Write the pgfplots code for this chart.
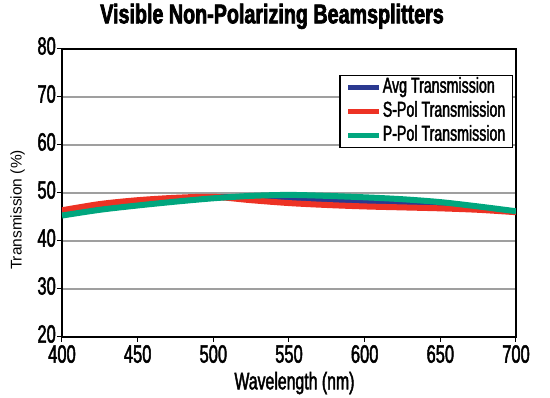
\documentclass[border=0pt]{standalone}
\usepackage{fontspec}
\setmainfont{Liberation Sans}
\newfontfamily\condf{Liberation Sans}[FakeStretch=0.66, FakeBold=1.8]
\newfontfamily\titlef{Liberation Sans Bold}[FakeStretch=0.73, FakeBold=2.5]
\usepackage{pgfplots}
\pgfplotsset{compat=1.18}
\definecolor{avgc}{RGB}{43,57,144}
\definecolor{sc}{RGB}{237,50,36}
\definecolor{pc}{RGB}{0,166,126}
\begin{document}
\begin{tikzpicture}
\useasboundingbox (-62pt,-61pt) rectangle (488pt,337pt);
\begin{axis}[
  at={(0pt,0pt)}, anchor=south west,
  scale only axis, width=454pt, height=288pt,
  xmin=400, xmax=700, ymin=20, ymax=80,
  xtick={400,450,...,700}, ytick={20,30,...,80},
  ymajorgrids, grid style={gray!75, line width=2.2pt},
  axis line style={line width=1.8pt},
  tick style={black, line width=1pt},
  major tick length=5pt,
  tick align=outside,
  xtick pos=bottom, ytick pos=left,
  /pgf/number format/assume math mode=true,
  /pgf/number format/1000 sep={},
  ticklabel style={font=\condf\fontsize{25}{25}\selectfont},
  xticklabel style={inner sep=0pt, yshift=-3pt},
  yticklabel style={inner sep=1pt, yshift=3pt},
  xlabel={Wavelength (nm)}, ylabel={Transmission (\%)},
  xlabel style={font=\condf\fontsize{24}{24}\selectfont, at={(axis description cs:0.512,-0.1816)}, anchor=base},
  ylabel style={font=\fontsize{15.5}{15.5}\selectfont, at={(axis description cs:-0.0892,0.441)}, anchor=base, rotate=0},
  title={Visible Non-Polarizing Beamsplitters},
  title style={font=\titlef\fontsize{27}{27}\selectfont, at={(axis description cs:0.4626,1.0684)}, anchor=base},
  legend style={at={(axis description cs:0.9934,0.9097)}, anchor=north east, draw=black, line width=1.4pt,
    font=\condf\fontsize{21.5}{21.5}\selectfont, row sep=2pt, inner xsep=6pt, inner ysep=1pt,
    nodes={inner sep=1pt, text height=15pt, text depth=5pt}},
  legend cell align=left,
  legend image code/.code={\draw[line width=5pt] (0pt,0pt) -- (31pt,0pt);},
]
\addplot[avgc, line width=6pt, smooth] coordinates {
(400,45.8) (425,47.0) (450,48.0) (475,48.6) (500,49.1) (525,49.1) (550,48.8) (575,48.5) (600,48.1) (625,47.7) (650,47.4) (675,46.8) (700,46.1)};
\addlegendentry{Avg Transmission}
\addplot[sc, line width=6pt, smooth] coordinates {
(400,46.4) (425,47.7) (450,48.5) (475,49.0) (500,49.2) (525,48.5) (550,47.9) (575,47.5) (600,47.2) (625,47.0) (650,46.8) (675,46.5) (700,46.0)};
\addlegendentry{S-Pol Transmission}
\addplot[pc, line width=6pt, smooth] coordinates {
(400,45.3) (425,46.5) (450,47.4) (475,48.2) (500,48.9) (525,49.4) (550,49.6) (575,49.4) (600,49.1) (625,48.7) (650,48.1) (675,47.2) (700,46.2)};
\addlegendentry{P-Pol Transmission}
\end{axis}
\end{tikzpicture}
\end{document}
